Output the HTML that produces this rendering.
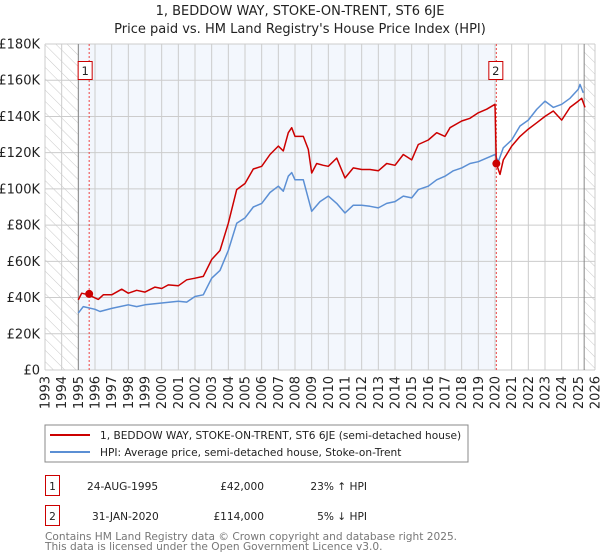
<!DOCTYPE html>
<html><head><meta charset="utf-8"><style>
body{margin:0;background:#fff;font-family:"DejaVu Sans","Liberation Sans",sans-serif;}
svg{display:block}
</style></head><body>
<svg id="c" width="600" height="560" xmlns="http://www.w3.org/2000/svg">
<defs><pattern id="hatch" width="8" height="8" patternUnits="userSpaceOnUse" patternTransform="rotate(-45)"><line x1="0" y1="0" x2="0" y2="8" stroke="#c8c8c8" stroke-width="1"/></pattern></defs>
<text x="300" y="15" text-anchor="middle" font-size="13" fill="#222">1, BEDDOW WAY, STOKE-ON-TRENT, ST6 6JE</text>
<text x="300" y="33" text-anchor="middle" font-size="13" fill="#222">Price paid vs. HM Land Registry's House Price Index (HPI)</text>
<g id="plot"></g>
<rect x="45" y="425" width="423" height="37" fill="#fff" stroke="#888"/>
<line x1="50" y1="435" x2="90" y2="435" stroke="#cc0000" stroke-width="2"/>
<text x="100" y="439" font-size="10.6" fill="#222">1, BEDDOW WAY, STOKE-ON-TRENT, ST6 6JE (semi-detached house)</text>
<line x1="50" y1="452" x2="90" y2="452" stroke="#5b8fd4" stroke-width="2"/>
<text x="100" y="456" font-size="10.6" fill="#222">HPI: Average price, semi-detached house, Stoke-on-Trent</text>
<g font-size="10.6" fill="#222">
<rect x="45.5" y="475.5" width="14" height="20" fill="none" stroke="#cc0000"/>
<text x="52.5" y="490" text-anchor="middle">1</text>
<text x="87" y="490">24-AUG-1995</text>
<text x="264" y="490" text-anchor="end">£42,000</text>
<text x="367" y="490" text-anchor="end">23% ↑ HPI</text>
<rect x="45.5" y="505.5" width="14" height="20" fill="none" stroke="#cc0000"/>
<text x="52.5" y="520" text-anchor="middle">2</text>
<text x="92" y="520">31-JAN-2020</text>
<text x="264" y="520" text-anchor="end">£114,000</text>
<text x="367" y="520" text-anchor="end">5% ↓ HPI</text>
</g>
<text x="45" y="540" font-size="10.6" fill="#777">Contains HM Land Registry data © Crown copyright and database right 2025.</text>
<text x="45" y="550" font-size="10.6" fill="#777">This data is licensed under the Open Government Licence v3.0.</text>
</svg>
<script>
const hpiYears=[1995,1995.3,1996,1996.3,1997,1998,1998.5,1999,2000,2001,2001.5,2002,2002.5,2003,2003.5,2004,2004.5,2005,2005.5,2006,2006.5,2007,2007.3,2007.6,2007.8,2008,2008.5,2009,2009.5,2010,2010.5,2011,2011.5,2012,2012.5,2013,2013.5,2014,2014.5,2015,2015.4,2016,2016.5,2017,2017.5,2018,2018.5,2019,2019.5,2020,2020.2,2020.5,2021,2021.5,2022,2022.5,2023,2023.5,2024,2024.5,2025,2025.1,2025.3];
const hpiValues=[31.4,35,33.5,32.3,34,36,35,36,37,38,37.5,40.6,41.5,50.7,55,66,81,84,90,92,98,101.5,98.7,107,109,105,105,87.6,93,96,92,86.7,91,91,90.4,89.5,92,93,96,95,99.6,101.5,105,107,110,111.6,114,115,117,119,115,122.7,127,134.7,138,143.9,148.5,145,146.7,150,155,157.7,153];
const priceYears=[1995,1995.2,1995.6,1996.2,1996.5,1997,1997.6,1998,1998.5,1999,1999.6,2000,2000.4,2001,2001.5,2002,2002.5,2003,2003.5,2004,2004.5,2005,2005.5,2006,2006.5,2007,2007.3,2007.6,2007.8,2008,2008.5,2008.8,2009,2009.3,2009.7,2010,2010.5,2011,2011.5,2012,2012.5,2013,2013.5,2014,2014.5,2015,2015.4,2016,2016.5,2017,2017.3,2018,2018.5,2019,2019.5,2020.0,2020.08,2020.3,2020.5,2021,2021.5,2022,2022.5,2023,2023.5,2024,2024.5,2025,2025.2,2025.4];
const priceValues=[38.7,42.4,41.5,39,41.5,41.5,44.6,42.4,44,43,45.8,45,47,46.5,49.8,50.7,51.7,61,66,81,99.6,103,111,112.5,119,123.6,121,131,133.8,129,129,121.8,108.8,114,113,112.5,117,106,111.6,110.7,110.7,110,114,113,119,116,124.5,127,131,129,133.8,137.5,139,142,144,146.7,114,108,116,123.6,129,133,136.5,140,143,138,145,148.5,150,145];
const saleYears=[1995.65,2020.08];
const saleValues=[42,114];
const saleLabels=["1","2"];
const yTicks=[0,20,40,60,80,100,120,140,160,180];
const yTickLabels=["£0","£20K","£40K","£60K","£80K","£100K","£120K","£140K","£160K","£180K"];
const xTicks=[1993,1994,1995,1996,1997,1998,1999,2000,2001,2002,2003,2004,2005,2006,2007,2008,2009,2010,2011,2012,2013,2014,2015,2016,2017,2018,2019,2020,2021,2022,2023,2024,2025,2026];

const X0=45,X1=595,Y0=370,Y1=44;
const xs=y=>X0+(y-1993)/(2026-1993)*(X1-X0);
const ys=v=>Y0-v/180*(Y0-Y1);
const NS="http://www.w3.org/2000/svg";
const g=document.getElementById('plot');
function mk(t,a){const e=document.createElementNS(NS,t);for(const k in a)e.setAttribute(k,a[k]);g.appendChild(e);return e;}
let e;
e=mk('rect',{x:xs(1995),y:Y1,width:xs(saleYears[1])-xs(1995),height:Y0-Y1,fill:'#eef3fc',opacity:0.7});


e=mk('rect',{x:X0,y:Y1,width:xs(1995)-X0,height:Y0-Y1,fill:'url(#hatch)'});


e=mk('rect',{x:xs(2025.35),y:Y1,width:X1-xs(2025.35),height:Y0-Y1,fill:'url(#hatch)'});


yTicks.forEach((v,i)=>{
 e=mk('line',{x1:X0,x2:X1,y1:ys(v),y2:ys(v),stroke:'#cccccc','stroke-width':1});
 
 
 e=mk('text',{x:40,y:ys(v)+4.5,'text-anchor':'end','font-size':13,fill:'#222'});e.textContent=yTickLabels[i];
 
 
});
xTicks.forEach(t=>{
 e=mk('line',{x1:xs(t),x2:xs(t),y1:Y1,y2:Y0,stroke:'#cccccc','stroke-width':1});
 
 
 e=mk('text',{x:0,y:0,'font-size':13,fill:'#222','text-anchor':'end',transform:`translate(${xs(t)+4.5},376) rotate(-90)`});e.textContent=t;
 
 
});
e=mk('line',{x1:xs(1995),x2:xs(1995),y1:Y1,y2:Y0,stroke:'#888'});


e=mk('line',{x1:xs(2025.35),x2:xs(2025.35),y1:Y1,y2:Y0,stroke:'#888'});


saleYears.forEach((s,i)=>{
 e=mk('line',{x1:xs(s),x2:xs(s),y1:Y1,y2:Y0,stroke:'#ee4444','stroke-width':1,'stroke-dasharray':'2,2'});
 
 
});
function line(xa,va,col,name){
 const d=xa.map((x,i)=>(i?'L':'M')+xs(x).toFixed(1)+','+ys(va[i]).toFixed(1)).join('');
 const p=mk('path',{d:d,fill:'none',stroke:col,'stroke-width':1.5,'stroke-linejoin':'round'});
 
 
}
line(hpiYears,hpiValues,'#5b8fd4','hpi-line');
line(priceYears,priceValues,'#cc0000','property-price-line');
saleYears.forEach((s,i)=>{
 e=mk('circle',{cx:xs(s),cy:ys(saleValues[i]),r:4,fill:'#cc0000'});
 
 
 e=mk('rect',{x:xs(s)-7.5-(i===0?3.5:0),y:61.5,width:14,height:18,fill:'#fff',stroke:'#cc0000'});
 
 
 e=mk('text',{x:xs(s)-0.5-(i===0?3.5:0),y:75,'text-anchor':'middle','font-size':11.5,fill:'#222'});e.textContent=saleLabels[i];
 
 
});
</script>
</body></html>
